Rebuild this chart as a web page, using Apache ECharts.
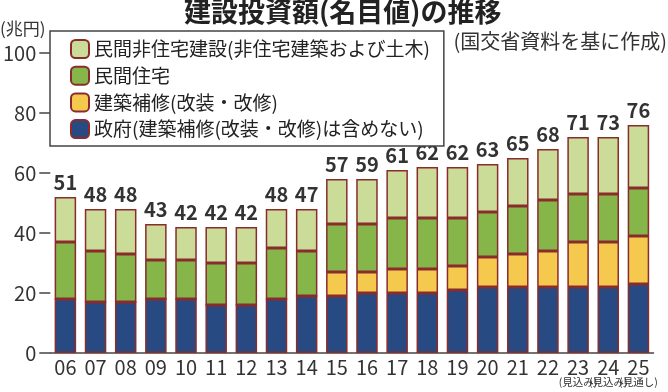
<!DOCTYPE html>
<html><head><meta charset="utf-8">
<script src="https://cdn.jsdelivr.net/npm/echarts@6/dist/echarts.min.js"></script>
<style>html,body{margin:0;padding:0;background:#fff}#c{width:668px;height:392px}</style>
</head><body><div id="c"></div>
<script>
const years = ['06','07','08','09','10','11','12','13','14','15','16','17','18','19','20','21','22','23','24','25'];
const yearNotes = ['','','','','','','','','','','','','','','','','','(見込み)','(見込み)','(見通し)'];
const totals = [51,48,48,43,42,42,42,48,47,57,59,61,62,62,63,65,68,71,73,76];
const government = [18,17,17,18,18,16,16,18,19,19,20,20,20,21,22,22,22,22,22,23];
const repair     = [0,0,0,0,0,0,0,0,0,8,7,8,8,8,10,11,12,15,15,16];
const housing    = [19,17,16,13,13,14,14,17,15,16,16,17,17,16,15,16,17,16,16,16];
const nonHousing = [15,14,15,12,11,12,12,13,14,15,15,16,17,17,16,16,17,19,19,21];
const names = ['民間非住宅建設(非住宅建築および土木)','民間住宅','建築補修(改装・改修)','政府(建築補修(改装・改修)は含めない)'];
const colors = ['#cbdc99','#86b54a','#f4c94e','#284a83'];

const FONT = '"Noto Sans CJK JP", "Noto Sans", sans-serif';
const border = {borderColor:'#8a2c2c', borderWidth:1.5};
function mk(name, data, color, withLabel){
  return {
    name, type:'bar', stack:'t', data, barWidth:21.5,
    itemStyle:Object.assign({color}, border),
    label: withLabel ? {show:true, position:'top', distance:5, fontFamily:FONT, fontSize:20, fontWeight:'bold', color:'#333',
      formatter: p => totals[p.dataIndex]} : {show:false},
    animation:false
  };
}
const chart = echarts.init(document.getElementById('c'), null, {renderer:'canvas'});
chart.setOption({
  animation:false,
  textStyle:{fontFamily:FONT},
  title:[
    {text:'建設投資額(名目値)の推移', left:184, top:-2, padding:0, textStyle:{fontFamily:FONT, fontSize:27, fontWeight:'bold', color:'#222', lineHeight:27}},
    {text:'(兆円)', left:0, top:20, padding:0, textStyle:{fontFamily:FONT, fontSize:17, fontWeight:'normal', color:'#333', lineHeight:17}},
    {text:'(国交省資料を基に作成)', right:1, top:31, padding:0, textStyle:{fontFamily:FONT, fontSize:20, fontWeight:'normal', color:'#333', lineHeight:20}}
  ],
  legend:{
    orient:'vertical', left:50, top:31,
    data:[names[0],names[1],names[2],names[3]],
    itemWidth:18, itemHeight:18, itemGap:6.7,
    padding:[8,14,7,20],
    borderColor:'#444', borderWidth:1.5, backgroundColor:'#fff',
    textStyle:{fontFamily:FONT, fontSize:19, color:'#222', lineHeight:18},
    selectedMode:false
  },
  grid:{left:44, right:14.5, top:53, bottom:39},
  xAxis:{
    type:'category', data:years,
    axisLine:{lineStyle:{color:'#444', width:1.5}},
    axisTick:{show:false},
    axisLabel:{interval:0, margin:4, fontFamily:FONT, fontSize:20, color:'#333', lineHeight:20,
      formatter:(v,i)=> yearNotes[i] ? v+'\n{s|'+yearNotes[i]+'}' : v,
      rich:{s:{fontFamily:FONT, fontSize:10.5, lineHeight:11, color:'#333'}}}
  },
  yAxis:{
    type:'value', min:0, max:100, interval:20,
    axisLine:{show:false},
    axisTick:{show:true, length:11, lineStyle:{color:'#444', width:1.5}},
    splitLine:{show:false},
    axisLabel:{margin:14, fontFamily:FONT, fontSize:20, color:'#333'}
  },
  series:[
    mk(names[3], government, colors[3], false),
    mk(names[2], repair, colors[2], false),
    mk(names[1], housing, colors[1], false),
    mk(names[0], nonHousing, colors[0], true)
  ]
});
</script></body></html>
